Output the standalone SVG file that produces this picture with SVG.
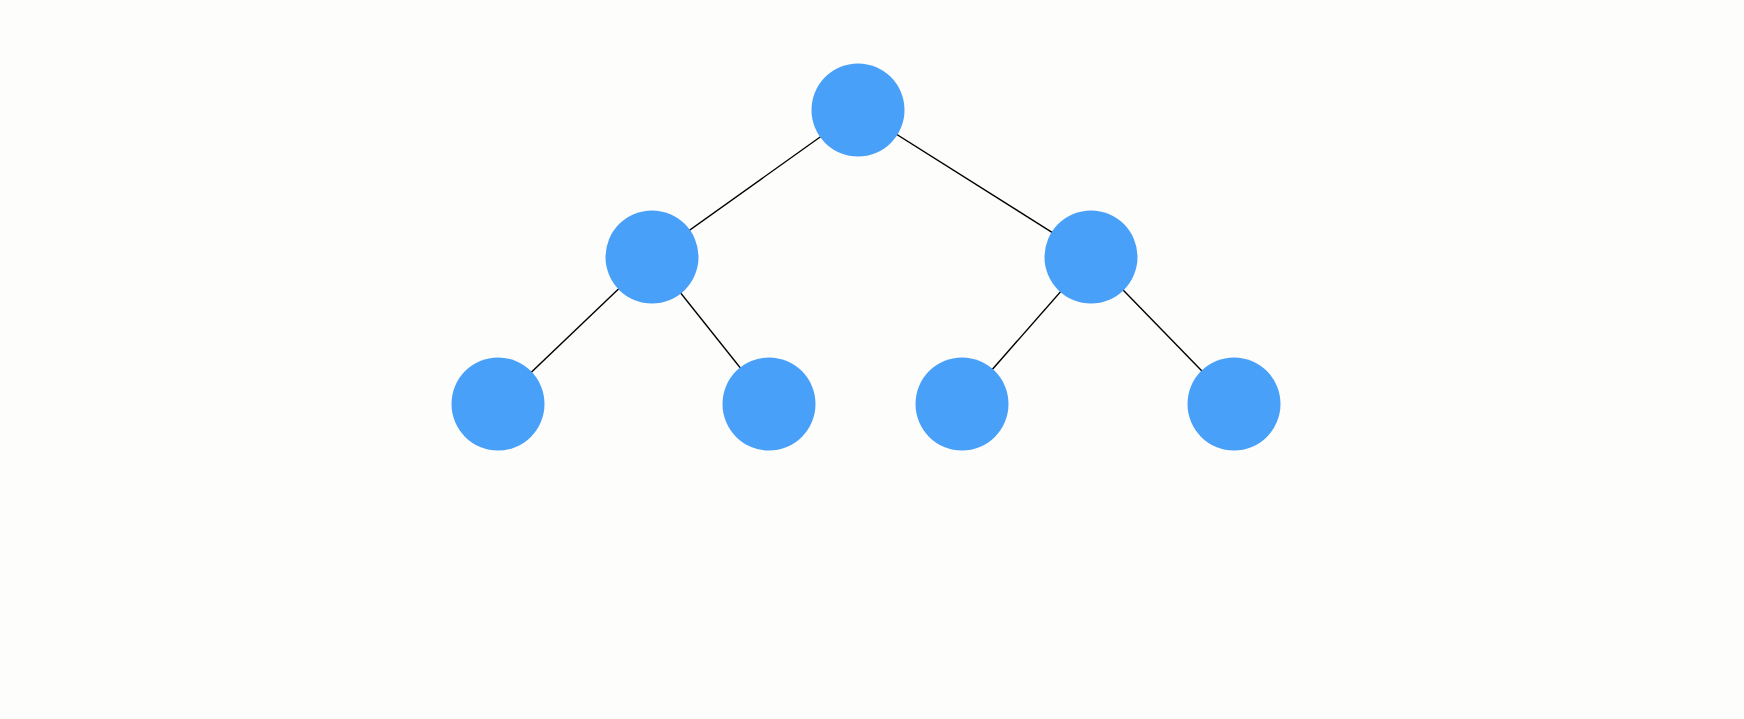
<svg xmlns="http://www.w3.org/2000/svg" width="1744" height="719" viewBox="0 0 1744 719">
<style>
.edge{stroke:#000;stroke-width:1.4;fill:none}
.node{fill:#48a0f8}
</style>
<rect width="1744" height="719" fill="#fdfdfc"/>
<g id="connectors">
<line class="edge" x1="858" y1="110" x2="652" y2="257"/>
<line class="edge" x1="858" y1="110" x2="1091" y2="257"/>
<line class="edge" x1="652" y1="257" x2="498" y2="404"/>
<line class="edge" x1="652" y1="257" x2="769" y2="404"/>
<line class="edge" x1="1091" y1="257" x2="962" y2="404"/>
<line class="edge" x1="1091" y1="257" x2="1234" y2="404"/>
</g>
<g id="root"><circle class="node" cx="858" cy="110" r="46.5"/></g>
<g id="left"><circle class="node" cx="652" cy="257" r="46.5"/></g>
<g id="right"><circle class="node" cx="1091" cy="257" r="46.5"/></g>
<g id="leaf1"><circle class="node" cx="498" cy="404" r="46.5"/></g>
<g id="leaf2"><circle class="node" cx="769" cy="404" r="46.5"/></g>
<g id="leaf3"><circle class="node" cx="962" cy="404" r="46.5"/></g>
<g id="leaf4"><circle class="node" cx="1234" cy="404" r="46.5"/></g>
</svg>
